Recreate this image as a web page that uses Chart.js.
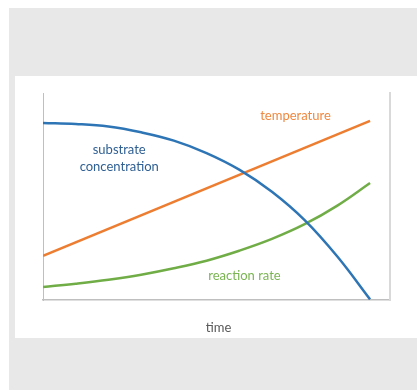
<!DOCTYPE html>
<html>
<head>
<meta charset="utf-8">
<script src="https://cdn.jsdelivr.net/npm/chart.js@4"></script>
<style>
  html, body { margin: 0; padding: 0; background: #ffffff; }
  #c { display: block; }
</style>
</head>
<body>
<canvas id="c" width="417" height="390"></canvas>
<script>
// Time steps (arbitrary units)
const timeSteps = [0, 1, 2, 3, 4, 5, 6, 7, 8, 9, 10];

// Substrate concentration falls off slowly, then sharply
const substrateConcentration = [85.5, 85.0, 83.8, 81.0, 77.0, 71.0, 63.0, 52.3, 38.6, 21.0, 0.3];

// Temperature rises steadily (straight line: start and end)
const temperatureTimes = [0, 10];
const temperature = [21.3, 86.5];

// Reaction rate accelerates over time
const reactionRate = [6.3, 7.9, 9.8, 12.2, 15.3, 19.0, 23.8, 29.5, 36.6, 45.6, 56.5];

// Series names drawn next to their curves
const seriesNames = ['substrate concentration', 'temperature', 'reaction rate'];
const axisTitle = 'time';

const COLORS = {
  blue: '#2e75b6', blueText: '#2f5f93',
  orange: '#ed7d31', orangeText: '#f0883f',
  green: '#70ad47', greenText: '#7ab552',
  axis: '#bfbfbf', frame: '#d9d9d9', title: '#595959'
};

const toPoints = (xs, ys) => xs.map((x, i) => ({ x, y: ys[i] }));

// Background: grey card with a white panel holding the chart
const backdrop = {
  id: 'backdrop',
  beforeDraw(chart) {
    const ctx = chart.ctx;
    ctx.save();
    ctx.fillStyle = '#ffffff';
    ctx.fillRect(0, 0, chart.width, chart.height);
    ctx.fillStyle = '#e8e8e8';
    ctx.fillRect(9, 8, chart.width - 9, chart.height - 8);
    ctx.fillStyle = '#ffffff';
    ctx.fillRect(15, 76, chart.width - 15, 262);
    ctx.restore();
  }
};

// Curve names and the axis title
const curveLabels = {
  id: 'curveLabels',
  afterDatasetsDraw(chart) {
    const { ctx, scales: { x, y }, chartArea } = chart;
    ctx.save();
    ctx.font = '13px Lato, "Open Sans", sans-serif';
    ctx.textAlign = 'center';
    ctx.textBaseline = 'middle';

    ctx.fillStyle = COLORS.blueText;
    const sx = x.getPixelForValue(2.33);
    ctx.fillText('substrate', sx, y.getPixelForValue(72.5));
    ctx.fillText('concentration', sx, y.getPixelForValue(64.4));

    ctx.fillStyle = COLORS.orangeText;
    ctx.fillText(seriesNames[1], x.getPixelForValue(7.72), y.getPixelForValue(89.0));

    ctx.fillStyle = COLORS.greenText;
    ctx.fillText(seriesNames[2], x.getPixelForValue(6.16), y.getPixelForValue(11.7));

    ctx.fillStyle = COLORS.title;
    ctx.fillText(axisTitle, (chartArea.left + chartArea.right) / 2 + 2, chartArea.bottom + 28);
    ctx.restore();
  }
};

// Axes carry no ticks, so they take no room of their own
const noWidth = (scale) => { scale.width = 0; };
const noHeight = (scale) => { scale.height = 0; };

new Chart(document.getElementById('c'), {
  type: 'line',
  data: {
    datasets: [
      {
        label: seriesNames[0],
        data: toPoints(timeSteps, substrateConcentration),
        borderColor: COLORS.blue,
        borderWidth: 2.5,
        pointRadius: 0,
        tension: 0.4,
        fill: false
      },
      {
        label: seriesNames[1],
        data: toPoints(temperatureTimes, temperature),
        borderColor: COLORS.orange,
        borderWidth: 2.5,
        pointRadius: 0,
        fill: false
      },
      {
        label: seriesNames[2],
        data: toPoints(timeSteps, reactionRate),
        borderColor: COLORS.green,
        borderWidth: 2.5,
        pointRadius: 0,
        tension: 0.4,
        fill: false
      }
    ]
  },
  options: {
    responsive: false,
    animation: false,
    devicePixelRatio: 1,
    layout: { padding: { left: 43, top: 93, right: 27, bottom: 90 } },
    plugins: { legend: { display: false }, tooltip: { enabled: false } },
    elements: { line: { borderCapStyle: 'butt' } },
    scales: {
      x: {
        type: 'linear',
        min: 0,
        max: 10.61,
        afterFit: noHeight,
        grid: { display: false },
        border: { display: true, color: COLORS.axis, width: 1.5 },
        ticks: { display: false }
      },
      y: {
        min: 0,
        max: 100,
        afterFit: noWidth,
        grid: { display: false },
        border: { display: true, color: COLORS.axis, width: 1 },
        ticks: { display: false }
      },
      yRight: {
        position: 'right',
        min: 0,
        max: 100,
        afterFit: noWidth,
        grid: { display: false },
        border: { display: true, color: COLORS.frame, width: 2 },
        ticks: { display: false }
      }
    }
  },
  plugins: [backdrop, curveLabels]
});
</script>
</body>
</html>
